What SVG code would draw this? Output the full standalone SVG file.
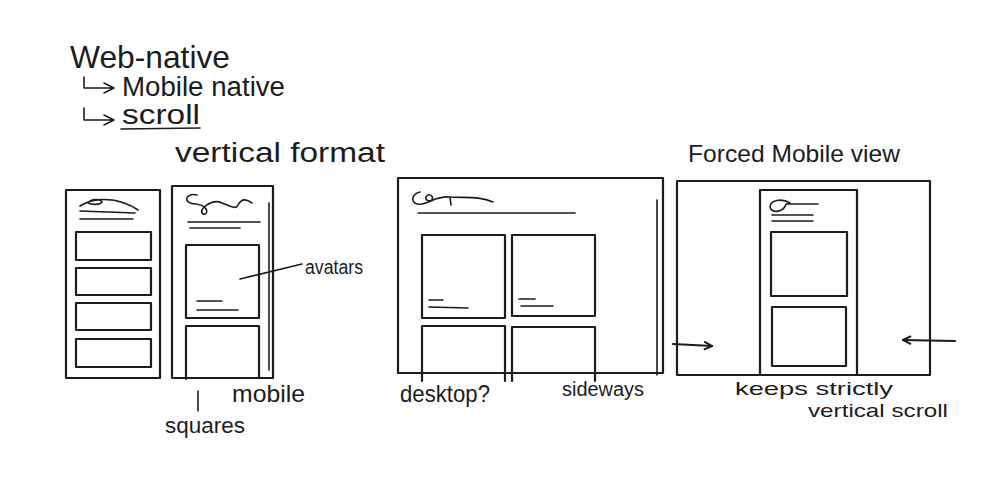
<svg xmlns="http://www.w3.org/2000/svg" width="999" height="487" viewBox="0 0 999 487">
<defs>
<style>
.s{fill:none;stroke:#1c1c1c;stroke-width:2.2;stroke-linecap:round;stroke-linejoin:round}
.t{stroke-width:1.6}
.h{font-family:"Liberation Sans","DejaVu Sans",sans-serif;fill:#1c1c1c}
</style>
<marker id="ah" viewBox="0 0 10 10" refX="9" refY="5" markerWidth="10" markerHeight="10" orient="auto" markerUnits="userSpaceOnUse">
<path d="M1,1 L9,5 L1,9" fill="none" stroke="#1c1c1c" stroke-width="2"/>
</marker>
</defs>
<rect width="999" height="487" fill="#fff"/>

<g id="notes">
<text class="h" x="70" y="68" font-size="32" textLength="160" lengthAdjust="spacingAndGlyphs">Web-native</text>
<path class="s t" d="M84,77 L84,88 L112,88 M104,83 L114,88 L104,93"/>
<text class="h" x="122" y="96" font-size="27" textLength="163" lengthAdjust="spacingAndGlyphs">Mobile native</text>
<path class="s t" d="M84,108 L84,120 L112,120 M104,115 L114,120 L104,125"/>
<text class="h" x="122" y="124" font-size="27" textLength="78" lengthAdjust="spacingAndGlyphs">scroll</text>
<path class="s t" d="M121,129 L200,128"/>
<text class="h" x="175" y="162" font-size="27" textLength="210" lengthAdjust="spacingAndGlyphs">vertical format</text>
</g>

<g id="list-view">
<rect class="s" x="66" y="190" width="94" height="188"/>
<path class="s t" d="M80,206 C92,198 110,198 124,203 C130,205 134,207 138,210 M88,203 C90,199 100,198 102,202 C100,205 92,205 88,203 M80,211 L135,213 M80,219 L133,219"/>
<rect class="s" x="76" y="232" width="75" height="28"/>
<rect class="s" x="76" y="268" width="75" height="27"/>
<rect class="s" x="76" y="303" width="75" height="27"/>
<rect class="s" x="76" y="339" width="75" height="28"/>
</g>

<g id="mobile-view">
<rect class="s" x="172" y="186" width="101" height="192"/>
<path class="s t" d="M269,203 L269,370"/>
<path class="s t" d="M197,195 C185,192 182,204 196,204 C210,206 208,216 203,214 C197,210 212,198 222,203 C230,206 236,210 238,205 C242,197 248,200 252,203"/>
<path class="s t" d="M188,222 L260,222 M190,228 L240,228"/>
<rect class="s" x="186" y="245" width="73" height="73"/>
<path class="s t" d="M197,301 L222,301 M197,310 L238,310"/>
<path class="s" d="M186,379 L186,326 L259,326 L259,378"/>
<path class="s t" d="M240,279 L302,264"/>
<text class="h" x="305" y="274" font-size="20" textLength="58" lengthAdjust="spacingAndGlyphs">avatars</text>
<path class="s t" d="M198,391 L198,411"/>
<text class="h" x="232" y="402" font-size="24" textLength="73" lengthAdjust="spacingAndGlyphs">mobile</text>
<text class="h" x="165" y="433" font-size="22" textLength="80" lengthAdjust="spacingAndGlyphs">squares</text>
</g>

<g id="desktop-view">
<rect class="s" x="398" y="178" width="265" height="195"/>
<path class="s t" d="M657,200 L657,375"/>
<path class="s t" d="M420,192 C410,194 410,206 422,204 C432,202 436,196 450,197 C466,198 480,196 493,202 M426,197 C428,193 434,195 432,200 C429,202 425,200 426,197 M450,197 L451,205"/>
<path class="s t" d="M418,213 L575,213"/>
<rect class="s" x="422" y="235" width="83" height="83"/>
<path class="s t" d="M429,300 L443,300 M429,307 L468,308"/>
<rect class="s" x="512" y="235" width="83" height="81"/>
<path class="s t" d="M519,299 L535,299 M521,306 L553,306"/>
<path class="s" d="M422,381 L422,326 L505,326 L505,381"/>
<path class="s" d="M512,381 L512,327 L595,327 L595,381"/>
<text class="h" x="400" y="402" font-size="24" textLength="90" lengthAdjust="spacingAndGlyphs">desktop?</text>
<text class="h" x="562" y="396" font-size="20" textLength="82" lengthAdjust="spacingAndGlyphs">sideways</text>
</g>

<g id="forced-mobile-view">
<text class="h" x="688" y="162" font-size="24" textLength="212" lengthAdjust="spacingAndGlyphs">Forced Mobile view</text>
<rect class="s" x="677" y="181" width="253" height="194"/>
<rect class="s" x="760" y="190" width="97" height="185"/>
<path class="s t" d="M790,203 C782,198 770,200 770,207 C772,214 784,212 786,204 L818,204 M772,215 L813,215 M772,221 L813,221"/>
<rect class="s" x="771" y="232" width="76" height="64"/>
<rect class="s" x="772" y="307" width="74" height="59"/>
<text class="h" x="735" y="395" font-size="19" textLength="158" lengthAdjust="spacingAndGlyphs">keeps strictly</text>
<text class="h" x="808" y="417" font-size="19" textLength="140" lengthAdjust="spacingAndGlyphs">vertical scroll</text>
</g>

<g id="connectors">
<path class="s" d="M673,344 L712,346" marker-end="url(#ah)"/>
<path class="s" d="M955,341 L903,340" marker-end="url(#ah)"/>
</g>
</svg>
